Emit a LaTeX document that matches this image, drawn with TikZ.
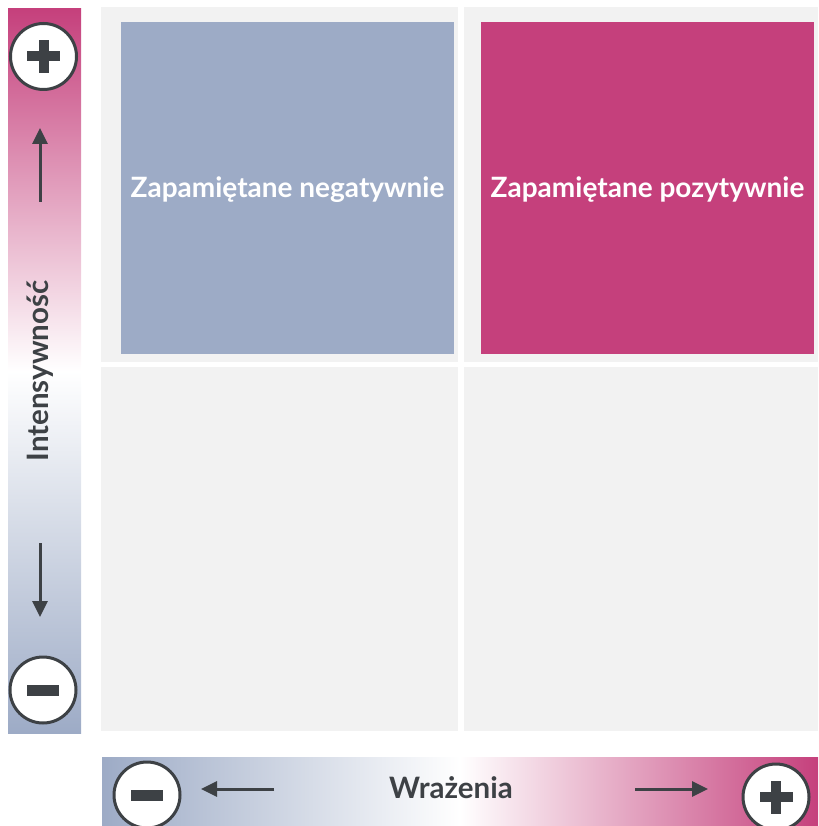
\documentclass[tikz,border=0pt]{standalone}
\usepackage{fontspec}
\setmainfont{Lato}
\usetikzlibrary{arrows.meta}
\definecolor{pinkc}{HTML}{C5407C}
\definecolor{bluec}{HTML}{9DABC6}
\definecolor{cellc}{HTML}{F2F2F2}
\definecolor{darkc}{HTML}{3D4145}
\tikzset{
  cell/.style={fill=cellc, draw=none},
  signcircle/.style={circle, draw=darkc, line width=3pt, fill=white, minimum size=66pt, inner sep=0pt},
  signbar/.style={fill=darkc, draw=none},
  axarrow/.style={draw=darkc, line width=3pt, -{Triangle[length=16pt,width=15pt]}},
  quadlabel/.style={text=white, font=\bfseries\fontsize{28}{32}\selectfont},
  axislabel/.style={text=darkc, font=\bfseries\fontsize{29.5}{34}\selectfont}
}
\begin{document}
\begin{tikzpicture}[x=1pt,y=-1pt]
\useasboundingbox (0,0) rectangle (818,826);
% grid cells
\fill[cell] (101,7) rectangle (458,362);
\fill[cell] (464,7) rectangle (818,362);
\fill[cell] (101,367) rectangle (458,731);
\fill[cell] (464,367) rectangle (818,731);
% quadrants
\fill[bluec] (121,22) rectangle (454,354);
\fill[pinkc] (481,22) rectangle (814,354);
\node[quadlabel] (qneg) at (287.5,190) {Zapamiętane negatywnie};
\node[quadlabel] (qpos) at (647.5,190) {Zapamiętane pozytywnie};
% left bar
\shade[top color=pinkc, bottom color=bluec, middle color=white] (8,9) rectangle (81,733);
\node[axislabel, rotate=90] (intens) at (40,371) {Intensywność};
\coordinate (upA) at (40,202);
\coordinate (upB) at (40,128);
\coordinate (dnA) at (40,543);
\coordinate (dnB) at (40,617);
\draw[axarrow] (upA) -- (upB);
\draw[axarrow] (dnA) -- (dnB);
\node[signcircle] (lplus) at (43.5,56.5) {};
\fill[signbar] ([xshift=-16.5pt,yshift=5pt]lplus.center) rectangle ([xshift=16.5pt,yshift=-5pt]lplus.center);
\fill[signbar] ([xshift=-5pt,yshift=16.5pt]lplus.center) rectangle ([xshift=5pt,yshift=-16.5pt]lplus.center);
\node[signcircle] (lminus) at (43,690) {};
\fill[signbar] ([xshift=-16pt,yshift=5.5pt]lminus.center) rectangle ([xshift=16pt,yshift=-5.5pt]lminus.center);
% bottom bar
\shade[left color=bluec, right color=pinkc, middle color=white] (102,757) rectangle (818,826);
\node[axislabel] (wraz) at (451,788) {Wrażenia};
\coordinate (lA) at (274,789);
\coordinate (lB) at (201,789);
\coordinate (rA) at (635,789);
\coordinate (rB) at (708,789);
\draw[axarrow] (lA) -- (lB);
\draw[axarrow] (rA) -- (rB);
\node[signcircle] (bminus) at (147,795) {};
\fill[signbar] ([xshift=-16pt,yshift=5.5pt]bminus.center) rectangle ([xshift=16pt,yshift=-5.5pt]bminus.center);
\node[signcircle] (bplus) at (776,797) {};
\fill[signbar] ([xshift=-16.5pt,yshift=5pt]bplus.center) rectangle ([xshift=16.5pt,yshift=-5pt]bplus.center);
\fill[signbar] ([xshift=-5pt,yshift=16.5pt]bplus.center) rectangle ([xshift=5pt,yshift=-16.5pt]bplus.center);
\end{tikzpicture}
\end{document}
